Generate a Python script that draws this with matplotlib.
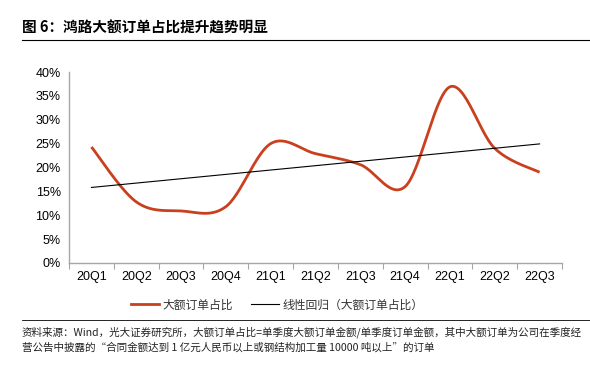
import numpy as np
import matplotlib
matplotlib.use("Agg")
import matplotlib.pyplot as plt
from matplotlib.lines import Line2D

plt.rcParams["font.family"] = ["Noto Sans CJK SC", "DejaVu Sans"]

# data
quarters = ["20Q1", "20Q2", "20Q3", "20Q4", "21Q1", "21Q2",
            "21Q3", "21Q4", "22Q1", "22Q2", "22Q3"]
big_order_share = [24.3, 12.8, 10.9, 11.8, 25.0, 22.9, 20.6, 16.0, 36.9, 24.0, 19.0]
y_ticks = [0, 5, 10, 15, 20, 25, 30, 35, 40]

title = "图 6：鸿路大额订单占比提升趋势明显"
legend_labels = ["大额订单占比", "线性回归（大额订单占比）"]
source_text = ("资料来源：Wind，光大证券研究所，大额订单占比=单季度大额订单金额/单季度订单金额，其中大额订单为公司在季度经\n"
               "营公告中披露的“合同金额达到 1 亿元人民币以上或钢结构加工量 10000 吨以上”的订单")

RED = "#C9401F"
GRAY = "#A6A6A6"


def smooth_curve(x, y, n=30):
    # Excel-like smoothed line: cubic Bezier through every point
    x = np.asarray(x, float)
    y = np.asarray(y, float)
    px, py = [], []
    t = np.linspace(0, 1, n)
    for i in range(len(x) - 1):
        x0, y0 = x[i], y[i]
        x3, y3 = x[i + 1], y[i + 1]
        xa, ya = (x[i - 1], y[i - 1]) if i > 0 else (x0, y0)
        xb, yb = (x[i + 2], y[i + 2]) if i + 2 < len(x) else (x3, y3)
        x1, y1 = x0 + (x3 - xa) / 6, y0 + (y3 - ya) / 6
        x2, y2 = x3 - (xb - x0) / 6, y3 - (yb - y0) / 6
        bx = (1-t)**3*x0 + 3*(1-t)**2*t*x1 + 3*(1-t)*t**2*x2 + t**3*x3
        by = (1-t)**3*y0 + 3*(1-t)**2*t*y1 + 3*(1-t)*t**2*y2 + t**3*y3
        px.extend(bx if i == 0 else bx[1:])
        py.extend(by if i == 0 else by[1:])
    return np.array(px), np.array(py)


fig = plt.figure(figsize=(5.9, 3.67), dpi=100)
ax = fig.add_axes([0.117, 0.2834, 0.8355, 0.5204])

xs = np.arange(len(quarters))
sx, sy = smooth_curve(xs, big_order_share)
ax.plot(sx, sy, color=RED, lw=2.0, solid_capstyle="butt")

slope, intercept = np.polyfit(xs, big_order_share, 1)
ax.plot(xs, slope * xs + intercept, color="black", lw=0.8)

ax.set_xlim(-0.5, len(quarters) - 0.5)
ax.set_ylim(0, 40)
ax.set_yticks(y_ticks)
ax.set_yticklabels([f"{v}%" for v in y_ticks], family="Liberation Sans", fontsize=9)
ax.set_xticks(xs)
ax.set_xticklabels(quarters, family="Liberation Sans", fontsize=9)
ax.set_xticks(np.arange(-0.5, len(quarters)), minor=True)
ax.tick_params(axis="x", which="major", length=0, pad=6)
ax.tick_params(axis="x", which="minor", length=4, color=GRAY, width=0.8, direction="out")
ax.tick_params(axis="y", length=0, pad=6)
for side in ["top", "right"]:
    ax.spines[side].set_visible(False)
for side in ["left", "bottom"]:
    ax.spines[side].set_color(GRAY)
    ax.spines[side].set_linewidth(1.0)

handles = [Line2D([], [], color=RED, lw=2.0), Line2D([], [], color="black", lw=0.8)]
fig.legend(handles, legend_labels, loc="center", bbox_to_anchor=(0.47, 1 - 305 / 367),
           ncol=2, frameon=False, fontsize=8.5, handlelength=2.3, handletextpad=0.3,
           columnspacing=1.6, labelcolor="#333333")

fig.text(22 / 590, 1 - 28 / 367, title, fontsize=10.5, fontweight="bold", va="center", ha="left")
fig.add_artist(Line2D([22 / 590, 1], [1 - 40 / 367] * 2, color="black", lw=0.8))
fig.add_artist(Line2D([22 / 590, 1], [1 - 320 / 367] * 2, color="black", lw=0.6))
fig.text(22 / 590, 1 - 326 / 367, source_text, fontsize=7.6, va="top", ha="left",
         linespacing=1.55, color="#222222")

fig.savefig("out.png", dpi=100)
